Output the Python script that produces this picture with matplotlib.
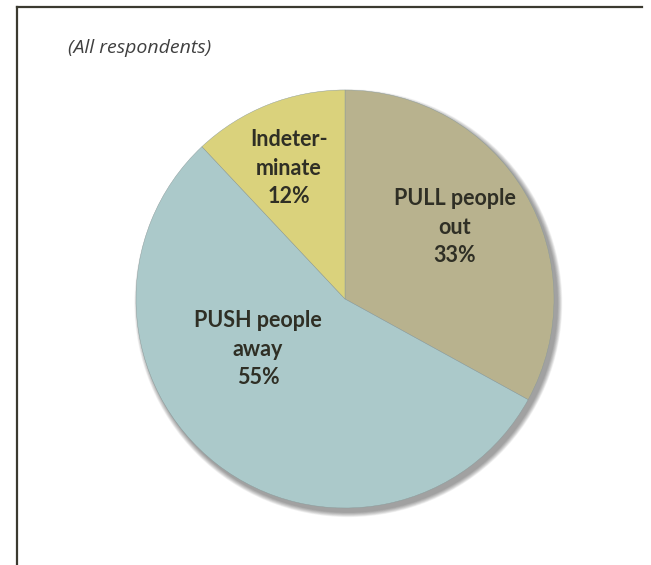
import matplotlib.pyplot as plt
from matplotlib.lines import Line2D
from matplotlib.patches import Circle
import numpy as np

labels = ['PULL people\nout\n33%', 'PUSH people\naway\n55%', 'Indeter-\nminate\n12%']
shares = [33, 55, 12]
colours = ['#b8b28e', '#abc9ca', '#dad27c']
subtitle = '(All respondents)'

W, H = 651, 565
fig = plt.figure(figsize=(W / 100, H / 100), dpi=100)

# frame lines (left and top)
fig.add_artist(Line2D([17 / W, 17 / W], [0, 1 - 7 / H], color='#3b3a30', lw=1.6))
fig.add_artist(Line2D([17 / W, 642 / W], [1 - 7 / H, 1 - 7 / H], color='#3b3a30', lw=1.6))

fig.text(68 / W, 1 - 48 / H, subtitle, fontsize=14, style='italic',
         color='#404040', family='Open Sans', va='center', ha='left')

cx, cy, r = 345, 299, 209
ax = fig.add_axes([(cx - r * 1.05) / W, 1 - (cy + r * 1.05) / H, 2.1 * r / W, 2.1 * r / H])
ax.axis('off')

# soft shadow to the lower right
for k in range(12):
    rad = 1.0 + 0.024 * (1 - k / 12)
    ax.add_patch(Circle((0.016, -0.02), rad, color='black', alpha=0.035, lw=0, zorder=0))

wedges, _ = ax.pie(shares, colors=colours, startangle=90, counterclock=False,
                   radius=1.0, wedgeprops=dict(linewidth=0.3, edgecolor='#8a9a9a'))
for w in wedges:
    w.set_zorder(2)
ax.set_xlim(-1.05, 1.05)
ax.set_ylim(-1.05, 1.05)
ax.set_aspect('equal')

# label positions in pie units (pixel offsets / radius)
pos = [(110, 72), (-87, -50), (-56, 131)]
for lab, (dx, dy) in zip(labels, pos):
    ax.text(dx / r, dy / r, lab, ha='center', va='center', fontsize=15.5,
            fontweight='bold', color='#2f2f25', family='Lato',
            linespacing=1.42, zorder=3)

fig.savefig('out.png', dpi=100)
